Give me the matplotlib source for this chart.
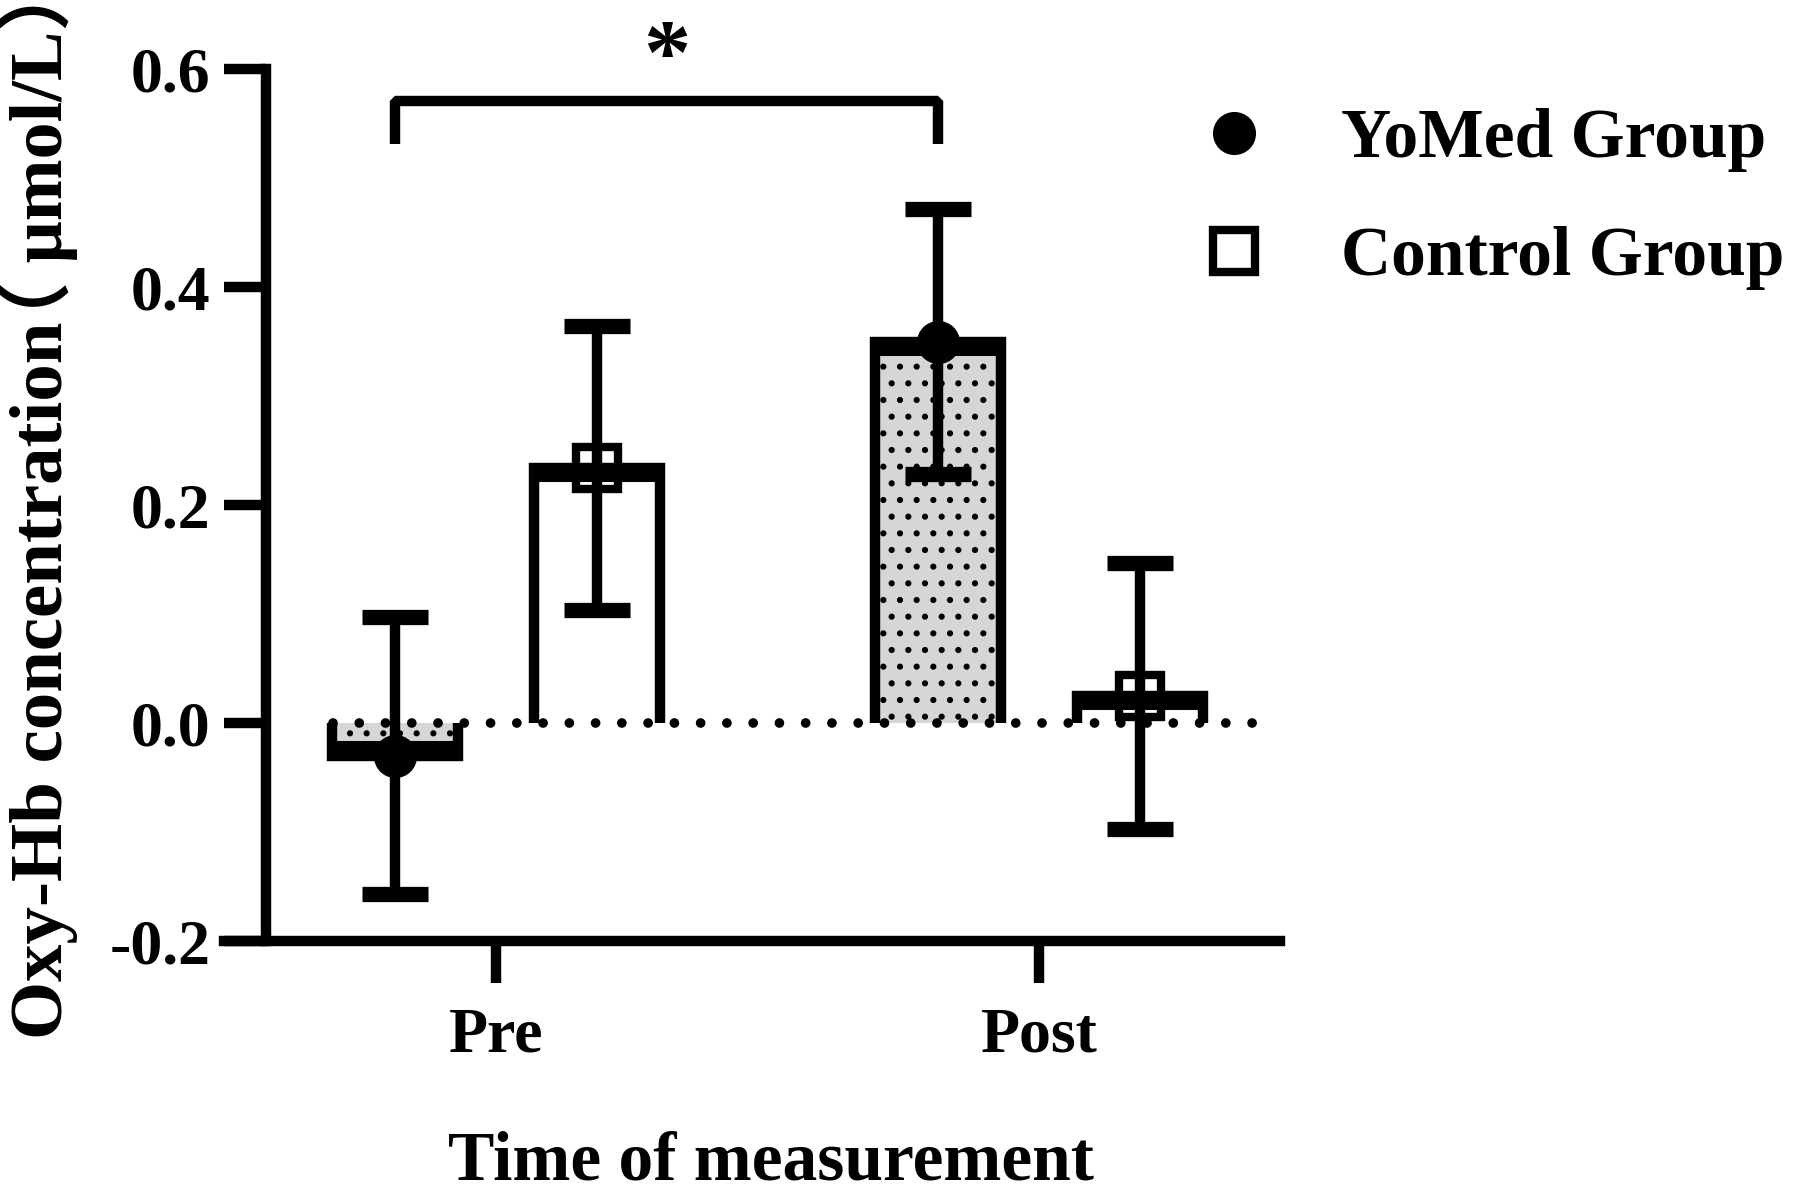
import matplotlib
matplotlib.use("Agg")
import matplotlib.pyplot as plt
import numpy as np

# ---- data ----
time_points = ["Pre", "Post"]
group_names = ["YoMed Group", "Control Group"]
yomed_mean = [-0.030, 0.350]
yomed_err = [0.127, 0.122]
control_mean = [0.234, 0.025]
control_err = [0.130, 0.122]
y_ticks = [-0.2, 0.0, 0.2, 0.4, 0.6]
y_tick_labels = ["-0.2", "0.0", "0.2", "0.4", "0.6"]
ylabel_parts = ["Oxy-Hb concentration", "（ μmol/L）"]  # "Oxy-Hb concentration（ μmol/L）"
xlabel_text = "Time of measurement"
sig_label = "*"

SERIF = ["Liberation Serif", "DejaVu Serif"]
MIXED = ["Liberation Serif", "Noto Sans CJK SC", "DejaVu Sans"]
plt.rcParams["font.family"] = SERIF
plt.rcParams["font.weight"] = "bold"
plt.rcParams["hatch.color"] = "black"
plt.rcParams["hatch.linewidth"] = 2.0

W, H = 1800, 1191


def ink_span(s, fam, size=50, anchor=100):
    """Ink start/end (pixels above the anchor) of a rotated text piece."""
    f = plt.figure(figsize=(W / 100, H / 100), dpi=100)
    f.text(0.5, anchor / H, s, rotation=90, rotation_mode="anchor",
           ha="left", va="baseline", fontsize=size, fontweight="bold",
           family=fam)
    f.canvas.draw()
    a = np.asarray(f.canvas.buffer_rgba())[:, :, 0]
    rows = np.where((a < 128).any(axis=1))[0]
    plt.close(f)
    top = H - rows.min()
    bot = H - rows.max() - 1
    return bot - anchor, top - anchor


fig = plt.figure(figsize=(W / 100, H / 100), dpi=100)
ax = fig.add_axes([266 / W, 250 / H, (1280 - 266) / W, (1122 - 250) / H])
ax.set_xlim(-0.424, 1.444)
ax.set_ylim(-0.2, 0.6)

LW = 7.5
bw = 0.232
off = 0.186
xg = np.arange(len(time_points))
x_y = xg - off
x_c = xg + off

# bar fills
ax.bar(x_y, yomed_mean, width=bw, color="#d6d6d6", edgecolor="black",
       linewidth=0, hatch=".", zorder=1)
ax.bar(x_c, control_mean, width=bw, color="white", edgecolor="black",
       linewidth=0, zorder=1)

# zero dotted line
ax.axhline(0, xmin=0.066, xmax=0.977, color="black", lw=7,
           dashes=(0.001, 2.7), dash_capstyle="round", zorder=2)

# bar outlines (no baseline edge), thick top edge drawn inside bar
dx = (LW / 72 * 100 / 2) / (1014 / 1.868)
for xs, ms in ((x_y, yomed_mean), (x_c, control_mean)):
    for x, m in zip(xs, ms):
        ax.plot([x - bw / 2, x - bw / 2, x + bw / 2, x + bw / 2], [0, m, m, 0],
                color="black", lw=LW, solid_joinstyle="miter",
                solid_capstyle="butt", zorder=3)
        s = np.sign(m)
        ax.plot([x - bw / 2 - dx, x + bw / 2 + dx], [m - s * 0.005, m - s * 0.005],
                color="black", lw=13, solid_capstyle="butt", zorder=3)

# error bars
for xs, ms, es in ((x_y, yomed_mean, yomed_err), (x_c, control_mean, control_err)):
    ax.errorbar(xs, ms, yerr=es, fmt="none", ecolor="black", elinewidth=LW,
                capsize=24, capthick=11, zorder=4)

# markers
h1, = ax.plot(x_y, yomed_mean, "o", ms=30, color="black", zorder=5,
              label=group_names[0])
h2, = ax.plot(x_c, control_mean, "s", ms=30, mfc="none", mec="black",
              mew=6, zorder=5, label=group_names[1])

# significance bracket
ax.plot([x_y[0], x_y[0], x_y[1], x_y[1]], [0.531, 0.571, 0.571, 0.531],
        color="black", lw=LW, solid_joinstyle="bevel", solid_capstyle="butt",
        clip_on=False, zorder=3)
ax.text((x_y[0] + x_y[1]) / 2, 0.587, sig_label, ha="center", va="baseline",
        fontsize=68, fontweight="bold", clip_on=False)

# spines / ticks
for s in ("top", "right"):
    ax.spines[s].set_visible(False)
ax.spines["left"].set_linewidth(LW)
ax.spines["bottom"].set_linewidth(LW)
ax.spines["left"].set_bounds(-0.2, 0.6)
ax.spines["bottom"].set_bounds(-0.501, 1.444)
ax.spines["left"].set_capstyle("projecting")

ax.set_yticks(y_ticks)
ax.set_yticklabels(y_tick_labels)
ax.set_xticks(xg)
ax.set_xticklabels(time_points)
ax.tick_params(axis="both", direction="out", length=30, width=LW,
               labelsize=46)
ax.tick_params(axis="y", pad=10)
ax.tick_params(axis="x", pad=18)
for lab in ax.get_xticklabels() + ax.get_yticklabels():
    lab.set_fontweight("bold")

# y label in two pieces so the full-width brackets sit tight, as in the figure
spans = [(154, 867), (884, 1184)]   # target ink extents (px from bottom)
for part, fam, (lo, hi) in zip(ylabel_parts, (SERIF, MIXED), spans):
    s0, s1 = ink_span(part, fam)
    size = 50 * (hi - lo) / (s1 - s0)
    anchor = lo - s0 * size / 50
    fig.text(62 / W, anchor / H, part, rotation=90, rotation_mode="anchor",
             ha="left", va="baseline", fontsize=size, fontweight="bold",
             family=fam)

fig.text(771 / W, 1 - 1162 / H, xlabel_text, ha="center", va="center",
         fontsize=50, fontweight="bold")

ax.legend(handles=[h1, h2], loc="center left",
          bbox_to_anchor=(1199 / W, 1 - 199 / H),
          bbox_transform=fig.transFigure, frameon=False,
          prop={"family": SERIF, "weight": "bold", "size": 50},
          handlelength=1.0, handletextpad=1.05, labelspacing=0.78,
          borderpad=0, borderaxespad=0)

fig.savefig("out.png", dpi=100, facecolor="white")
